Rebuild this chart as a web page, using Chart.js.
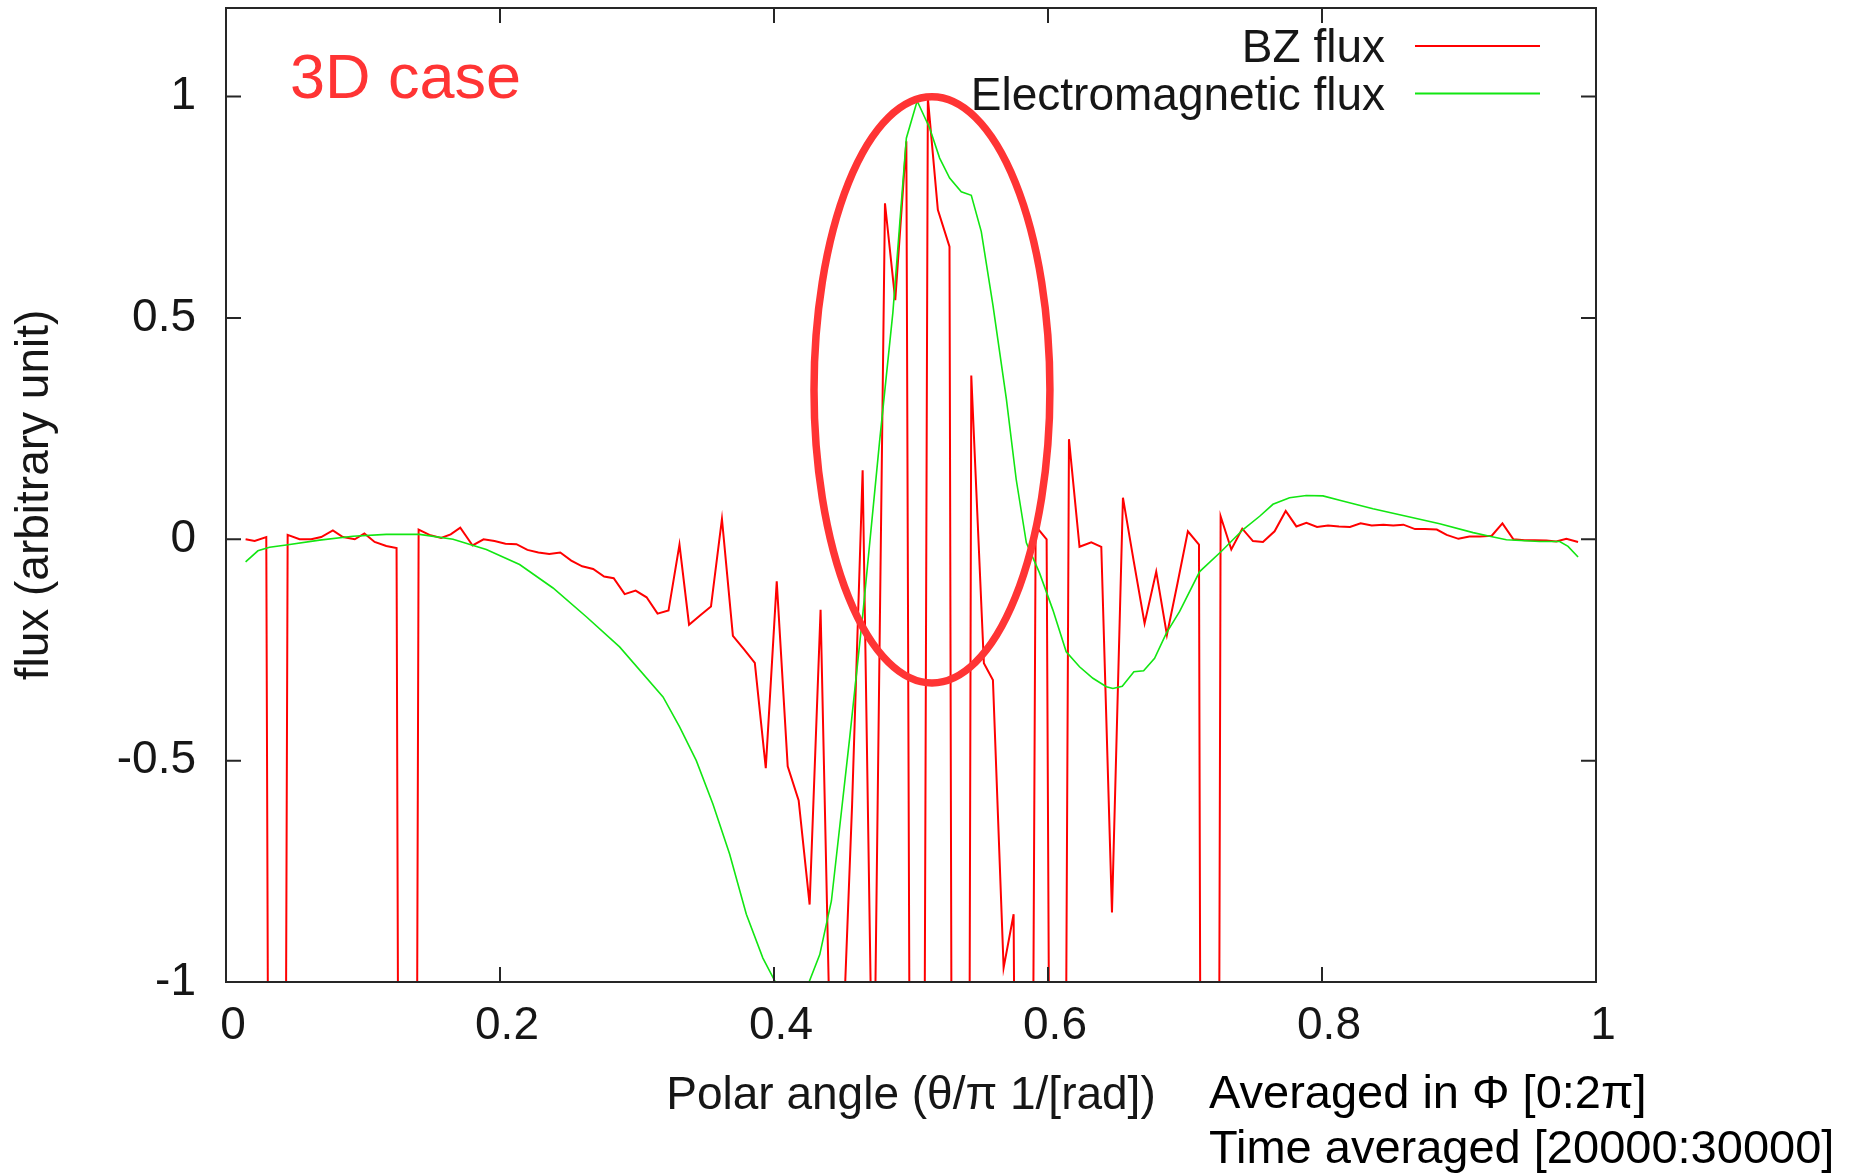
<!DOCTYPE html>
<html>
<head>
<meta charset="utf-8">
<title>BZ flux vs polar angle</title>
<script src="https://cdn.jsdelivr.net/npm/chart.js@4.4.0/dist/chart.umd.min.js"></script>
<style>
  html, body { margin: 0; padding: 0; background: #fff; }
  canvas { display: block; }
</style>
</head>
<body>
<canvas id="plot" width="1868" height="1174"></canvas>
<script>
// BZ flux, sampled on the theta grid (theta / pi)
const bzTheta = [
  0.0143, 0.0209, 0.0294, 0.0372, 0.0450, 0.0537, 0.0622, 0.0695, 0.0780, 0.0853,
  0.0940, 0.1010, 0.1085, 0.1170, 0.1245, 0.1325, 0.1406, 0.1485, 0.1570, 0.1640,
  0.1710, 0.1800, 0.1880, 0.1960, 0.2040, 0.2120, 0.2200, 0.2280, 0.2360, 0.2440,
  0.2520, 0.2600, 0.2680, 0.2760, 0.2830, 0.2910, 0.2990, 0.3070, 0.3150, 0.3230,
  0.3310, 0.3380, 0.3460, 0.3540, 0.3620, 0.3700, 0.3780, 0.3860, 0.3940, 0.4020,
  0.4100, 0.4180, 0.4260, 0.4340, 0.4420, 0.4495, 0.4570, 0.4647, 0.4725, 0.4810,
  0.4885, 0.4966, 0.5045, 0.5123, 0.5196, 0.5281, 0.5360, 0.5440, 0.5532, 0.5598,
  0.5676, 0.5749, 0.5830, 0.5910, 0.5990, 0.6070, 0.6153, 0.6230, 0.6316, 0.6389,
  0.6467, 0.6547, 0.6626, 0.6705, 0.6790, 0.6868, 0.6945, 0.7021, 0.7102, 0.7180,
  0.7260, 0.7338, 0.7418, 0.7496, 0.7569, 0.7654, 0.7735, 0.7813, 0.7886, 0.7964,
  0.8044, 0.8124, 0.8204, 0.8282, 0.8363, 0.8448, 0.8520, 0.8594, 0.8679, 0.8752,
  0.8838, 0.8910, 0.8996, 0.9076, 0.9153, 0.9239, 0.9317, 0.9397, 0.9480, 0.9553,
  0.9638, 0.9710, 0.9784, 0.9869
];
const bzFlux = [
  0.000, -0.004, 0.005, -7.0, 0.010, 0.000, 0.000, 0.005, 0.020, 0.005,
  0.000, 0.013, -0.006, -0.015, -0.020, -8.0, 0.022, 0.010, 0.003, 0.011,
  0.026, -0.014, 0.000, -0.004, -0.010, -0.011, -0.024, -0.030, -0.033, -0.030,
  -0.048, -0.061, -0.067, -0.084, -0.088, -0.124, -0.116, -0.131, -0.168, -0.161,
  -0.012, -0.193, -0.172, -0.152, 0.046, -0.218, -0.248, -0.279, -0.517, -0.095,
  -0.513, -0.590, -0.825, -0.159, -1.30, -1.20, -0.60, 0.156, -1.40, 0.759,
  0.540, 0.899, -6.0, 0.997, 0.744, 0.661, -9.0, 0.370, -0.280, -0.318,
  -0.968, -0.847, -5.0, 0.030, 0.000, -5.0, 0.226, -0.017, -0.007, -0.017,
  -0.843, 0.094, -0.050, -0.190, -0.073, -0.216, -0.100, 0.018, -0.012, -9.0,
  0.052, -0.023, 0.024, -0.004, -0.006, 0.018, 0.064, 0.029, 0.037, 0.028,
  0.031, 0.029, 0.028, 0.036, 0.031, 0.033, 0.031, 0.033, 0.023, 0.023,
  0.022, 0.010, 0.001, 0.006, 0.006, 0.008, 0.036, 0.000, -0.002, -0.002,
  -0.003, -0.005, 0.001, -0.006
];

// Electromagnetic flux
const emTheta = [
  0.0143, 0.0233, 0.0318, 0.0440, 0.0683, 0.0926, 0.1170, 0.1413, 0.1657, 0.1900,
  0.2143, 0.2387, 0.2630, 0.2873, 0.3190, 0.3311, 0.3433, 0.3554, 0.3676, 0.3798,
  0.3919, 0.4010, 0.4090, 0.4170, 0.4256, 0.4334, 0.4419, 0.4553, 0.4649, 0.4770,
  0.4868, 0.4966, 0.5045, 0.5136, 0.5209, 0.5282, 0.5367, 0.5440, 0.5513, 0.5598,
  0.5696, 0.5768, 0.5842, 0.5938, 0.6036, 0.6133, 0.6230, 0.6328, 0.6426, 0.6474,
  0.6542, 0.6627, 0.6698, 0.6778, 0.6864, 0.6961, 0.7107, 0.7266, 0.7424, 0.7545,
  0.7642, 0.7763, 0.7885, 0.8007, 0.8129, 0.8372, 0.8616, 0.8859, 0.9103, 0.9224,
  0.9346, 0.9589, 0.9735, 0.9796, 0.9869
];
const emFlux = [
  -0.051, -0.026, -0.018, -0.013, -0.002, 0.007, 0.011, 0.011, 0.000, -0.023,
  -0.057, -0.110, -0.175, -0.243, -0.356, -0.424, -0.500, -0.598, -0.711, -0.847,
  -0.946, -1.000, -1.060, -1.060, -1.000, -0.938, -0.817, -0.447, -0.167, 0.219,
  0.513, 0.906, 0.990, 0.929, 0.861, 0.816, 0.785, 0.777, 0.695, 0.529,
  0.317, 0.135, -0.008, -0.076, -0.160, -0.254, -0.288, -0.314, -0.333, -0.337,
  -0.332, -0.299, -0.297, -0.269, -0.212, -0.163, -0.073, -0.027, 0.022, 0.052,
  0.079, 0.094, 0.099, 0.098, 0.088, 0.069, 0.052, 0.035, 0.015, 0.007,
  -0.001, -0.005, -0.005, -0.016, -0.040
];

const xTicks = [0, 0.2, 0.4, 0.6, 0.8, 1];
const yTicks = [-1, -0.5, 0, 0.5, 1];

// highlighted region around the equator (data units)
const ring = { theta: 0.5153, flux: 0.3373, dTheta: 0.0861, dFlux: 0.662 };

const caseLabel = '3D case';
const notes = ['Averaged in \u03A6 [0:2\u03C0]', 'Time averaged [20000:30000]'];

const FONT = '"Liberation Sans", Arial, Helvetica, sans-serif';
const INK = '#161616';
const MARK_RED = '#ff3434';

let toPoints = (xs, ys) => xs.map((x, i) => ({ x: x, y: ys[i] }));

// frame, inward ticks, legend, ring and notes
const decorations = {
  id: 'decorations',
  afterDatasetsDraw(chart) {
    const { ctx, chartArea: a, scales } = chart;
    const sx = scales.x, sy = scales.y;
    const tickLen = 15;
    ctx.save();

    ctx.strokeStyle = '#262626';
    ctx.lineWidth = 2;
    ctx.strokeRect(a.left, a.top, a.right - a.left, a.bottom - a.top);
    ctx.beginPath();
    xTicks.forEach(v => {
      const px = sx.getPixelForValue(v);
      ctx.moveTo(px, a.bottom); ctx.lineTo(px, a.bottom - tickLen);
      ctx.moveTo(px, a.top); ctx.lineTo(px, a.top + tickLen);
    });
    yTicks.forEach(v => {
      const py = sy.getPixelForValue(v);
      ctx.moveTo(a.left, py); ctx.lineTo(a.left + tickLen, py);
      ctx.moveTo(a.right, py); ctx.lineTo(a.right - tickLen, py);
    });
    ctx.stroke();

    // legend, text right aligned with the line sample after it
    ctx.font = '46px ' + FONT;
    ctx.textAlign = 'right';
    ctx.textBaseline = 'alphabetic';
    chart.data.datasets.forEach((ds, i) => {
      const base = a.top + 54 + i * 47.5;
      ctx.fillStyle = INK;
      ctx.fillText(ds.label, a.right - 211, base);
      ctx.strokeStyle = ds.borderColor;
      ctx.lineWidth = 2;
      ctx.beginPath();
      ctx.moveTo(a.right - 181, base - 16);
      ctx.lineTo(a.right - 56, base - 16);
      ctx.stroke();
    });

    // ring
    const cx = sx.getPixelForValue(ring.theta);
    const cy = sy.getPixelForValue(ring.flux);
    const rx = sx.getPixelForValue(ring.theta + ring.dTheta) - cx;
    const ry = cy - sy.getPixelForValue(ring.flux + ring.dFlux);
    ctx.strokeStyle = MARK_RED;
    ctx.lineWidth = 7.5;
    ctx.beginPath();
    ctx.ellipse(cx, cy, rx, ry, 0, 0, Math.PI * 2);
    ctx.stroke();

    ctx.textAlign = 'left';
    ctx.fillStyle = MARK_RED;
    ctx.font = '63px ' + FONT;
    ctx.fillText(caseLabel, a.left + 64, a.top + 90);

    ctx.fillStyle = '#000';
    ctx.font = '47px ' + FONT;
    notes.forEach((t, i) => ctx.fillText(t, a.right - 387, a.bottom + 126 + i * 55));

    ctx.restore();
  }
};

const tickFont = { family: FONT, size: 46 };

let config = {
  type: 'line',
  data: {
    datasets: [
      {
        label: 'BZ flux',
        data: toPoints(bzTheta, bzFlux),
        borderColor: '#ff0000',
        borderWidth: 2,
        pointRadius: 0,
        tension: 0,
        clip: 0,
        order: 2
      },
      {
        label: 'Electromagnetic flux',
        data: toPoints(emTheta, emFlux),
        borderColor: '#12e612',
        borderWidth: 1.6,
        pointRadius: 0,
        tension: 0,
        clip: 0,
        order: 1
      }
    ]
  },
  options: {
    responsive: false,
    animation: false,
    events: [],
    layout: { padding: { top: 8, right: 272, left: 0, bottom: 0 } },
    plugins: {
      legend: { display: false },
      tooltip: { enabled: false }
    },
    scales: {
      x: {
        type: 'linear',
        min: 0,
        max: 1,
        grid: { display: false, drawTicks: false },
        border: { display: false },
        afterBuildTicks: s => { s.ticks = xTicks.map(v => ({ value: v })); },
        afterFit: s => {
          s.height = 192;
          s.paddingLeft = 0;
          s.paddingRight = 0;
        },
        ticks: {
          font: tickFont,
          color: INK,
          padding: 17,
          labelOffset: 7,
          maxRotation: 0,
          autoSkip: false,
          callback: v => String(v)
        },
        title: {
          display: true,
          text: 'Polar angle (\u03B8/\u03C0 1/[rad])',
          font: tickFont,
          color: INK,
          padding: { top: 0, bottom: 50 }
        }
      },
      y: {
        type: 'linear',
        min: -1,
        max: 1.2,
        grid: { display: false, drawTicks: false },
        border: { display: false },
        afterBuildTicks: s => { s.ticks = yTicks.map(v => ({ value: v })); },
        afterFit: s => {
          s.width = 226;
          // labels sit well inside the range, no extra room needed above/below
          s.paddingTop = 0;
          s.paddingBottom = 0;
        },
        ticks: {
          font: tickFont,
          color: INK,
          padding: 30,
          callback: v => String(v)
        },
        title: {
          display: true,
          text: 'flux (arbitrary unit)',
          font: tickFont,
          color: INK,
          padding: { top: 8, bottom: 0 }
        }
      }
    }
  },
  plugins: [decorations]
};

let chart = new Chart(document.getElementById('plot'), config);
</script>
</body>
</html>
